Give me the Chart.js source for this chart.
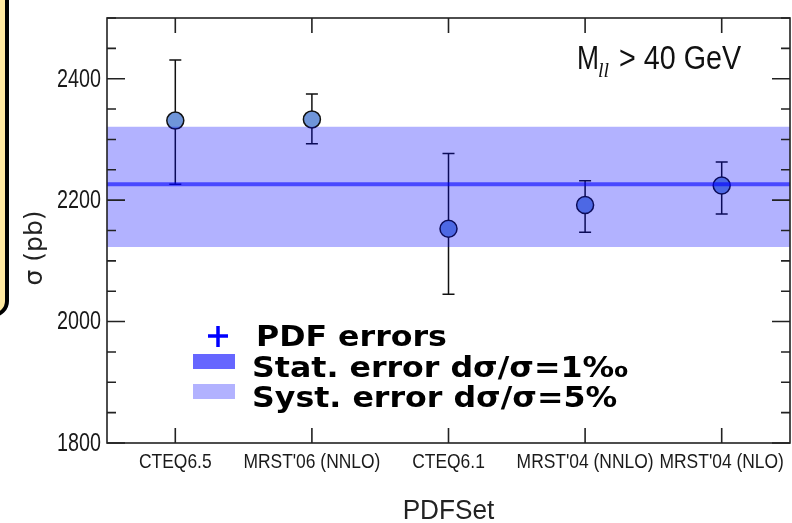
<!DOCTYPE html>
<html>
<head>
<meta charset="utf-8">
<script src="https://cdn.jsdelivr.net/npm/chart.js@4"></script>
<style>
  html, body { margin: 0; padding: 0; overflow: hidden; background: #fff; }
  #wrap { width: 800px; height: 523px; }
</style>
</head>
<body>
<div id="wrap"><canvas id="myChart" width="800" height="523"></canvas></div>
<script>
// PDF sets and cross sections (pb)
const pdfSets = ['CTEQ6.5', "MRST'06 (NNLO)", 'CTEQ6.1', "MRST'04 (NNLO)", "MRST'04 (NLO)"];
const sigma = [2331, 2333, 2153, 2192, 2224];
const pdfErrUp = [2431, 2375, 2277, 2232, 2263];
const pdfErrDown = [2226, 2293, 2045, 2147, 2177];

// reference value with stat and syst error bands
const statValue = 2226;
const systLow = 2123;
const systHigh = 2321;

const yTicks = [1800, 2000, 2200, 2400];
const yMinorStep = 50;

const sans = "'Liberation Sans', Arial, sans-serif";
const edges = [-0.5, 4.5];

// the original uses a condensed face, fake it by squeezing the text
function squeezed(ctx, text, x, y, sx) {
    ctx.save();
    ctx.translate(x, y);
    ctx.scale(sx, 1);
    ctx.fillText(text, 0, 0);
    ctx.restore();
}

const decor = {
    id: 'decor',
    beforeDraw(chart) {
        // yellow box cut by the left border
        const ctx = chart.ctx;
        ctx.save();
        ctx.fillStyle = '#ffe9a0';
        ctx.strokeStyle = '#000';
        ctx.lineWidth = 4;
        ctx.beginPath();
        ctx.roundRect(-40, -20, 47, 335, 14);
        ctx.fill();
        ctx.stroke();
        ctx.restore();
    },
    beforeDatasetsDraw(chart) {
        // PDF error bars
        const ctx = chart.ctx, xs = chart.scales.x, ys = chart.scales.y;
        ctx.save();
        ctx.strokeStyle = '#111';
        ctx.lineWidth = 1.5;
        sigma.forEach((v, i) => {
            const x = xs.getPixelForValue(i);
            const yt = ys.getPixelForValue(pdfErrUp[i]);
            const yb = ys.getPixelForValue(pdfErrDown[i]);
            ctx.beginPath();
            ctx.moveTo(x, yt); ctx.lineTo(x, yb);
            ctx.moveTo(x - 6, yt); ctx.lineTo(x + 6, yt);
            ctx.moveTo(x - 6, yb); ctx.lineTo(x + 6, yb);
            ctx.stroke();
        });
        ctx.restore();
    },
    afterDraw(chart) {
        const ctx = chart.ctx, xs = chart.scales.x, ys = chart.scales.y;
        const a = chart.chartArea;
        ctx.save();
        // frame
        ctx.strokeStyle = '#222';
        ctx.lineWidth = 1.6;
        ctx.strokeRect(a.left, a.top, a.right - a.left, a.bottom - a.top);
        // inward ticks
        ctx.beginPath();
        for (let v = ys.min; v <= ys.max; v += yMinorStep) {
            const y = ys.getPixelForValue(v);
            const len = yTicks.includes(v) ? 18 : 9;
            ctx.moveTo(a.left, y); ctx.lineTo(a.left + len, y);
            ctx.moveTo(a.right, y); ctx.lineTo(a.right - len, y);
        }
        pdfSets.forEach((_, i) => {
            const x = xs.getPixelForValue(i);
            ctx.moveTo(x, a.bottom); ctx.lineTo(x, a.bottom - 15);
            ctx.moveTo(x, a.top); ctx.lineTo(x, a.top + 15);
        });
        ctx.stroke();

        // tick labels
        ctx.fillStyle = '#1a1a1a';
        ctx.font = '25px ' + sans;
        ctx.textAlign = 'right';
        ctx.textBaseline = 'middle';
        yTicks.forEach(v => squeezed(ctx, String(v), a.left - 6, ys.getPixelForValue(v) + 1, 0.79));
        ctx.font = '21px ' + sans;
        ctx.textAlign = 'center';
        ctx.textBaseline = 'alphabetic';
        pdfSets.forEach((name, i) => squeezed(ctx, name, xs.getPixelForValue(i), a.bottom + 25, 0.83));

        // title
        ctx.fillStyle = '#111';
        ctx.textAlign = 'left';
        ctx.font = '33px ' + sans;
        squeezed(ctx, 'M', 577, 69, 0.8);
        ctx.font = 'italic 22px "Liberation Serif", serif';
        squeezed(ctx, 'll', 598, 77, 0.9);
        ctx.font = '33px ' + sans;
        squeezed(ctx, '> 40 GeV', 619, 69, 0.87);

        // axis titles
        ctx.fillStyle = '#222';
        ctx.font = '27px ' + sans;
        ctx.textAlign = 'center';
        squeezed(ctx, 'PDFSet', (a.left + a.right) / 2, 519, 0.97);
        ctx.save();
        ctx.translate(42, 248);
        ctx.rotate(-Math.PI / 2);
        ctx.font = '25px "DejaVu Sans"';
        ctx.fillText('σ (pb)', 0, 0);
        ctx.restore();

        // legend
        ctx.textAlign = 'left';
        ctx.strokeStyle = '#0000ff';
        ctx.lineWidth = 3.5;
        ctx.beginPath();
        ctx.moveTo(208, 336); ctx.lineTo(228, 336);
        ctx.moveTo(218, 326); ctx.lineTo(218, 347);
        ctx.stroke();
        ctx.fillStyle = 'rgba(0,0,255,0.6)';
        ctx.fillRect(193, 354, 42, 15);
        ctx.fillStyle = 'rgba(0,0,255,0.3)';
        ctx.fillRect(193, 384, 42, 15);
        ctx.fillStyle = '#000';
        ctx.font = 'bold 28px "DejaVu Sans"';
        squeezed(ctx, 'PDF errors', 256, 346, 1.13);
        squeezed(ctx, 'Stat. error dσ/σ=1‰', 252, 377, 1.13);
        squeezed(ctx, 'Syst. error dσ/σ=5%', 252, 407, 1.13);
        ctx.restore();
    }
};

const config = {
    type: 'scatter',
    data: {
        datasets: [
            {
                label: 'PDF errors',
                data: sigma.map((v, i) => ({ x: i, y: v })),
                backgroundColor: '#6f95d9',
                borderColor: '#111',
                borderWidth: 1.5,
                pointRadius: 8.5,
                order: 3
            },
            {
                label: 'syst low',
                type: 'line',
                data: edges.map(x => ({ x: x, y: systLow })),
                borderWidth: 0,
                pointRadius: 0,
                fill: false,
                order: 2
            },
            {
                label: 'Syst. error',
                type: 'line',
                data: edges.map(x => ({ x: x, y: systHigh })),
                borderWidth: 0,
                pointRadius: 0,
                backgroundColor: 'rgba(0,0,255,0.3)',
                fill: '-1',
                order: 2
            },
            {
                label: 'Stat. error',
                type: 'line',
                data: edges.map(x => ({ x: x, y: statValue })),
                borderColor: 'rgba(0,0,255,0.6)',
                borderWidth: 4,
                pointRadius: 0,
                fill: false,
                order: 1
            }
        ]
    },
    options: {
        responsive: false,
        animation: false,
        layout: { padding: { top: 18, right: 6, left: 0, bottom: 0 } },
        plugins: {
            legend: { display: false },
            tooltip: { enabled: false }
        },
        scales: {
            x: {
                type: 'linear',
                min: edges[0],
                max: edges[1],
                afterBuildTicks: s => { s.ticks = pdfSets.map((_, i) => ({ value: i })); },
                afterFit: s => { s.height = 80; },
                ticks: { display: false },
                grid: { drawOnChartArea: false, drawTicks: false },
                border: { display: false }
            },
            y: {
                min: 1800,
                max: 2500,
                afterBuildTicks: s => { s.ticks = yTicks.map(v => ({ value: v })); },
                afterFit: s => { s.width = 107; },
                ticks: { display: false },
                grid: { drawOnChartArea: false, drawTicks: false },
                border: { display: false }
            }
        }
    },
    plugins: [decor]
};

const myChart = new Chart(document.getElementById('myChart'), config);
</script>
</body>
</html>
